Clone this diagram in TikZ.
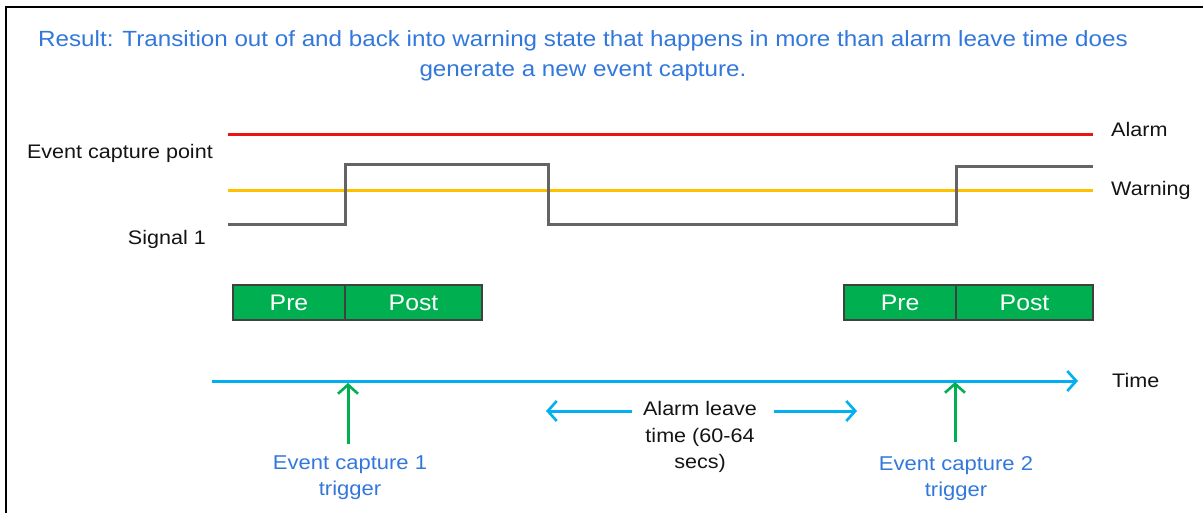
\documentclass[tikz,border=0pt]{standalone}
\usepackage{fontspec}
\setmainfont{Liberation Sans}[FakeStretch=1.1]
\usetikzlibrary{arrows.meta}
\definecolor{ttlblue}{RGB}{50,120,220}
\definecolor{alarmred}{RGB}{235,20,20}
\definecolor{warnyel}{RGB}{255,192,0}
\definecolor{siggray}{RGB}{100,100,100}
\definecolor{boxgreen}{RGB}{0,176,80}
\definecolor{boxedge}{RGB}{64,64,64}
\definecolor{axiscyan}{RGB}{0,176,240}
\definecolor{txtblack}{RGB}{20,20,20}
\tikzset{
  lbl/.style={font=\fontsize{19.6}{22}\selectfont, text=txtblack, inner sep=0pt},
  bluelbl/.style={font=\fontsize{20}{26}\selectfont, text=ttlblue, align=center, inner sep=0pt},
  seg/.style={draw=boxedge, fill=boxgreen, line width=1.3pt, minimum height=35pt, inner sep=0pt, text=white, font=\fontsize{22.5}{24}\selectfont},
  barb/.style={-{Straight Barb[length=9pt,width=20pt,line width=2.6pt]}},
  wire/.style={line width=3pt},
}
\begin{document}
\begin{tikzpicture}[x=1pt,y=-1pt]
\useasboundingbox (0,0) rectangle (1203,513);
% frame
\draw[line width=2pt, black] (6,513) -- (6,7) -- (1203,7);
% title
\node[font=\fontsize{22}{30}\selectfont, text=ttlblue, align=center, inner sep=0pt] (title) at (583,55.5)
  {Result: Transition out of and back into warning state that happens in more than alarm leave time does\\generate a new event capture.};
% levels
\coordinate (aL) at (228,135); \coordinate (aR) at (1093,135);
\coordinate (wL) at (228,191); \coordinate (wR) at (1093,191);
\draw[alarmred, wire] (aL) -- (aR);
\draw[warnyel, wire] (wL) -- (wR);
% signal
\coordinate (s0) at (228,225);
\coordinate (s1) at (345,225);
\coordinate (s2) at (345,165);
\coordinate (s3) at (548,165);
\coordinate (s4) at (548,225);
\coordinate (s5) at (956,225);
\coordinate (s6) at (956,167);
\coordinate (s7) at (1093,167);
\draw[siggray, wire] (s0) -- (s1) -- (s2) -- (s3) -- (s4) -- (s5) -- (s6) -- (s7);
% labels
\node[lbl, anchor=east] (ecp) at (213,153) {Event capture point};
\node[lbl, anchor=east] (sig) at (206,239) {Signal 1};
\node[lbl, anchor=west] (alarm) at (1111,129) {Alarm};
\node[lbl, anchor=west] (warn) at (1111,190) {Warning};
% boxes
\node[seg, minimum width=112pt] (pre1) at (289,302.5) {Pre};
\node[seg, minimum width=137pt] (post1) at (413.5,302.5) {Post};
\node[seg, minimum width=112pt] (pre2) at (900,302.5) {Pre};
\node[seg, minimum width=137pt] (post2) at (1024.5,302.5) {Post};
% time axis
\coordinate (t0) at (212,381);
\coordinate (t1) at (1078,381);
\draw[axiscyan, wire, barb] (t0) -- (t1);
\node[lbl, anchor=west] (time) at (1112,380) {Time};
% triggers
\coordinate (g1a) at (348,444); \coordinate (g1b) at (348,383);
\coordinate (g2a) at (955,442); \coordinate (g2b) at (955,382);
\draw[boxgreen, wire, barb] (g1a) -- (g1b);
\draw[boxgreen, wire, barb] (g2a) -- (g2b);
\node[bluelbl] (ec1) at (350,478) {Event capture 1\\trigger};
\node[bluelbl] (ec2) at (956,479) {Event capture 2\\trigger};
% alarm leave
\node[lbl, font=\fontsize{19.6}{26.5}\selectfont, align=center] (leave) at (700,437) {Alarm leave\\time (60-64\\secs)};
\coordinate (la) at (632,411); \coordinate (lb) at (546,411);
\coordinate (ra) at (774,411); \coordinate (rb) at (857,411);
\draw[axiscyan, wire, barb] (la) -- (lb);
\draw[axiscyan, wire, barb] (ra) -- (rb);
\end{tikzpicture}
\end{document}
